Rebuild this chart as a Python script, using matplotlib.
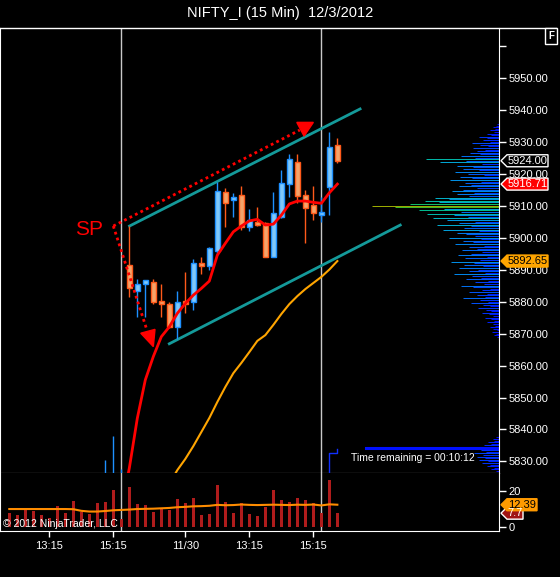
import numpy as np
import matplotlib.pyplot as plt
from matplotlib.patches import Rectangle, Polygon
from matplotlib.colors import LinearSegmentedColormap

plt.rcParams['font.family'] = ['Liberation Sans', 'DejaVu Sans']

W, H = 560, 577

# 15 min bars, index 0 = first bar of 11/30 session
bar_idx = list(range(-3, 27))
opens = [5818.0, 5820.0, 5822.0,
         5891.4, 5883.4, 5885.4, 5886.0, 5880.1, 5879.2, 5871.9, 5880.1, 5880.0, 5891.9,
         5891.2, 5895.9, 5914.2, 5911.8, 5913.2, 5903.4, 5905.0, 5904.6, 5894.0, 5906.5,
         5916.6, 5923.5, 5913.2, 5910.1, 5907.2, 5915.9, 5928.8]
highs = [5830.5, 5838.0, 5827.5,
         5903.5, 5886.9, 5886.7, 5886.9, 5885.5, 5880.0, 5883.2, 5889.2, 5893.2, 5894.0,
         5897.1, 5917.5, 5915.5, 5913.8, 5916.1, 5909.0, 5909.4, 5905.0, 5914.3, 5921.1,
         5926.1, 5926.1, 5914.8, 5916.1, 5912.6, 5933.0, 5931.1]
lows = [5815.0, 5817.0, 5818.0,
        5881.5, 5875.1, 5875.1, 5879.2, 5875.3, 5871.6, 5868.2, 5876.3, 5877.3, 5888.6,
        5889.8, 5894.5, 5903.4, 5906.5, 5902.3, 5902.1, 5903.6, 5894.0, 5894.0, 5906.0,
        5912.8, 5910.7, 5898.4, 5905.5, 5905.0, 5907.0, 5923.4]
closes = [5822.0, 5824.0, 5825.0,
          5884.1, 5885.5, 5886.7, 5879.9, 5879.1, 5871.9, 5880.0, 5879.1, 5891.9, 5891.2,
          5896.7, 5914.5, 5910.9, 5912.2, 5903.2, 5905.5, 5904.0, 5894.0, 5907.6, 5916.9,
          5924.4, 5913.1, 5909.1, 5907.6, 5907.9, 5928.2, 5924.0]

fast_idx = list(range(-1, 27))
fast_ma = [5815.0, 5827.9, 5843.5, 5855.5, 5862.8, 5869.0, 5872.1, 5876.3, 5879.4, 5882.0,
           5884.1, 5886.4, 5894.5, 5898.2, 5901.8, 5903.6, 5905.2, 5905.7, 5903.9, 5904.2,
           5907.0, 5910.5, 5911.4, 5911.4, 5911.0, 5910.7, 5914.0, 5916.71]
slow_idx = list(range(5, 27))
slow_ma = [5823.0, 5827.3, 5830.8, 5834.8, 5839.2, 5843.6, 5848.6, 5853.3, 5857.6, 5860.8,
           5864.2, 5867.7, 5869.5, 5872.7, 5876.1, 5879.2, 5881.7, 5883.9, 5885.8, 5887.7,
           5890.0, 5892.65]

vol_idx = list(range(-15, 27))
volume = [7.7, 6.5, 9.9, 9.0, 6.5, 4.9, 11.6, 7.7, 14.4, 8.4, 7.1, 13.3, 13.8, 20.6, 4.7,
          22.2, 12.7, 12.1, 8.2, 10.3, 9.5, 15.5, 13.5, 16.1, 6.7, 7.3, 23.4, 13.8, 7.9, 13.3,
          7.3, 6.0, 11.4, 20.6, 15.0, 14.0, 16.1, 15.0, 13.1, 7.7, 26.2, 7.7]
vol_ma = [10.0, 10.0, 10.0, 10.0, 10.0, 10.0, 10.0, 10.0, 9.9, 9.0, 8.6, 8.6, 8.9, 9.3, 9.5,
          9.7, 10.0, 10.1, 10.2, 10.4, 10.6, 11.0, 11.2, 11.5, 11.6, 11.8, 12.3, 12.1, 12.2,
          12.5, 12.3, 12.2, 12.3, 12.4, 12.3, 12.2, 12.4, 12.3, 12.5, 12.0, 12.6, 12.39]

# volume profile, 0.5 point levels from 5827.0 upward
prof_levels = 5827.0 + 0.5 * np.arange(220)
prof_len = [3, 8, 5, 12, 9, 17, 11, 20, 14, 22,
            16, 25, 13, 18, 21, 10, 15, 8, 11, 5,
            6, 3, 0, 0, 0, 0, 0, 0, 0, 0,
            0, 0, 0, 0, 0, 0, 0, 0, 0, 0,
            0, 0, 0, 0, 0, 0, 0, 0, 0, 0,
            0, 0, 0, 0, 0, 0, 0, 0, 0, 0,
            0, 0, 0, 0, 0, 0, 0, 0, 0, 0,
            0, 0, 0, 0, 0, 0, 0, 0, 0, 0,
            0, 0, 0, 0, 2, 5, 3, 7, 2, 6,
            9, 4, 6, 12, 5, 8, 14, 6, 10, 17,
            8, 13, 21, 9, 16, 28, 11, 19, 36, 14,
            22, 12, 30, 17, 9, 26, 38, 15, 24, 11,
            33, 18, 27, 45, 14, 30, 21, 40, 16, 35,
            25, 48, 19, 34, 12, 41, 28, 17, 37, 22,
            30, 15, 44, 26, 36, 18, 50, 24, 33, 42,
            20, 56, 35, 28, 62, 40, 24, 52, 66, 31,
            45, 72, 38, 80, 55, 104, 127, 89, 60, 74,
            50, 64, 30, 42, 25, 47, 36, 22, 40, 28,
            34, 18, 49, 27, 39, 15, 31, 44, 20, 36,
            26, 42, 17, 59, 33, 73, 24, 38, 19, 29,
            22, 14, 26, 11, 19, 27, 9, 16, 12, 20,
            8, 12, 5, 9, 4, 6, 3, 2, 0, 0]

session_breaks = [-1, 24]
time_ticks = [-10, -2, 7, 15, 23]
time_labels = ['13:15', '15:15', '11/30', '13:15', '15:15']
price_ticks = [5830, 5840, 5850, 5860, 5870, 5880, 5890, 5900, 5910, 5920, 5930, 5940, 5950, 5960]

# drawing objects
chan_upper = ([0.03, 28.84], [5903.6, 5940.2])
chan_lower = ([5.0, 33.86], [5866.8, 5903.9])
sp_corner = (-2.0, 5903.6)
arrow_up_end = (21.3, 5933.6)
arrow_dn_end = (2.2, 5871.1)
head_up = [(20.93, 5936.0), (23.0, 5936.0), (21.84, 5931.7)]
head_dn = [(1.43, 5870.1), (3.21, 5871.3), (3.0, 5865.9)]
blue_step = ([25, 25, 26, 26], [5826.0, 5832.7, 5832.7, 5834.0])
blue_level = ([29.6, 47], [5834.3, 5834.3])

fig = plt.figure(figsize=(W / 100, H / 100), dpi=100, facecolor='black')
ax = fig.add_axes([0, 104 / H, 499 / W, 445 / H])
axv = fig.add_axes([0, 46 / H, 499 / W, 58 / H], sharex=ax)
for a in (ax, axv):
    a.set_facecolor('black')
    for s in a.spines.values():
        s.set_color('white')
    a.spines['top'].set_visible(False)
ax.set_xlim(-16.16, 46.2)
ax.set_ylim(5826.4, 5965.5)
axv.set_ylim(-2.2, 30.0)

# volume profile
cmap = LinearSegmentedColormap.from_list('prof', [(0, '#0000ff'), (0.2, '#0048ff'), (0.35, '#0088f0'),
                                                  (0.5, '#00b4d0'), (0.65, '#00c088'), (0.8, '#38c030'),
                                                  (1, '#a0b000')])
plen = np.array(prof_len, dtype=float)
keep = plen > 0
ax.hlines(prof_levels[keep], 1 - plen[keep] / 499, 1, colors=cmap(plen[keep] / 127),
          lw=0.7, transform=ax.get_yaxis_transform(), zorder=1)

for k in session_breaks:
    ax.axvline(k, color='#c8c8c8', lw=1, zorder=2)
    axv.axvline(k, color='#c8c8c8', lw=1, zorder=2)

ax.plot(chan_upper[0], chan_upper[1], color='#149a9a', lw=2, zorder=3)
ax.plot(chan_lower[0], chan_lower[1], color='#149a9a', lw=2, zorder=3)

ax.plot(slow_idx, slow_ma, color='#ffa500', lw=1.5, zorder=4)

for k, o, h, l, c in zip(bar_idx, opens, highs, lows, closes):
    if c >= o:
        fc, ec = '#80c8f8', '#1e90ff'
    else:
        fc, ec = '#f4a46a', '#ff5a1a'
    ax.vlines(k, l, h, color=ec, lw=1, zorder=5)
    body = max(abs(c - o), 0.9)
    ax.add_patch(Rectangle((k - 0.3, min(o, c)), 0.6, body, facecolor=fc, edgecolor=ec, lw=1, zorder=6))

ax.plot(fast_idx, fast_ma, color='#ff0000', lw=2, zorder=7)

ax.plot([sp_corner[0], arrow_up_end[0]], [sp_corner[1], arrow_up_end[1]], color='#ff0000', lw=2,
        ls=(0, (1, 1.2)), zorder=8)
ax.plot([sp_corner[0], arrow_dn_end[0]], [sp_corner[1], arrow_dn_end[1]], color='#ff0000', lw=2,
        ls=(0, (1, 1.2)), zorder=8)
ax.add_patch(Polygon(head_up, closed=True, fc='#ff0000', ec='#ff0000', zorder=8))
ax.add_patch(Polygon(head_dn, closed=True, fc='#ff0000', ec='#ff0000', zorder=8))
ax.text(-5.04, 5902.5, 'SP', color='#ff0000', fontsize=15, ha='center', va='center')

ax.plot(blue_step[0], blue_step[1], color='#1030ff', lw=1, zorder=3)
ax.plot(blue_level[0], blue_level[1], color='#0010ff', lw=2.2, zorder=2)
ax.text(27.7, 5831.0, 'Time remaining = 00:10:12', color='white', fontsize=7.5, ha='left', va='center', zorder=9)

ax.yaxis.tick_right()
ax.set_yticks(price_ticks)
ax.set_yticklabels(['%.2f' % p if p < 5960 else '' for p in price_ticks])
ax.tick_params(axis='y', colors='white', length=5, width=1, labelsize=8, pad=2)
ax.tick_params(axis='x', bottom=False, labelbottom=False)

axv.bar(vol_idx, volume, width=0.4, color='#b01c1c', zorder=3)
axv.plot(vol_idx, vol_ma, color='#ff8c00', lw=1.5, zorder=4)
axv.yaxis.tick_right()
axv.set_yticks([0, 20])
axv.tick_params(axis='y', colors='white', length=5, width=1, labelsize=8, pad=2)
axv.set_xticks(time_ticks)
axv.set_xticklabels(time_labels)
axv.tick_params(axis='x', colors='white', length=4, width=1, labelsize=8, pad=3)

fig.add_artist(plt.Line2D([0, 556 / W], [1 - 27.5 / H, 1 - 27.5 / H], color='white', lw=1, transform=fig.transFigure))
fig.text(0.5, 1 - 13 / H, 'NIFTY_I (15 Min)  12/3/2012', ha='center', va='center', color='white', fontsize=10.5)
fig.text(3 / W, 1 - 524 / H, '\u00a9 2012 NinjaTrader, LLC', ha='left', va='center', color='white', fontsize=7.5)
fig.text(551 / W, 1 - 36 / H, 'F', ha='center', va='center', color='white', fontsize=7, fontweight='bold',
         bbox=dict(boxstyle='square,pad=0.3', fc='black', ec='white', lw=1))


def tag(axis, value, label, face, edge, tc, right):
    y = axis.transData.transform((0, value))[1]
    pts = [(501, y), (507, y + 6), (right, y + 6), (right, y - 6), (507, y - 6)]
    fig.add_artist(Polygon([(px / W, py / H) for px, py in pts], closed=True, transform=fig.transFigure,
                           fc=face, ec=edge, lw=1, zorder=5))
    fig.text((507 + right) / 2 / W, y / H, label, ha='center', va='center', fontsize=8, color=tc, zorder=6)


tag(ax, 5924.0, '5924.00', 'black', 'white', 'white', 548)
tag(ax, 5916.71, '5916.71', '#ff0000', 'white', 'white', 548)
tag(ax, 5892.65, '5892.65', '#ffa500', '#ffa500', 'black', 548)
tag(axv, 7.7, '7.7', '#a01414', 'white', 'white', 523)
tag(axv, 12.39, '12.39', '#ff9a00', '#ff9a00', 'black', 537)

fig.savefig('out.png', dpi=100, facecolor='black')
